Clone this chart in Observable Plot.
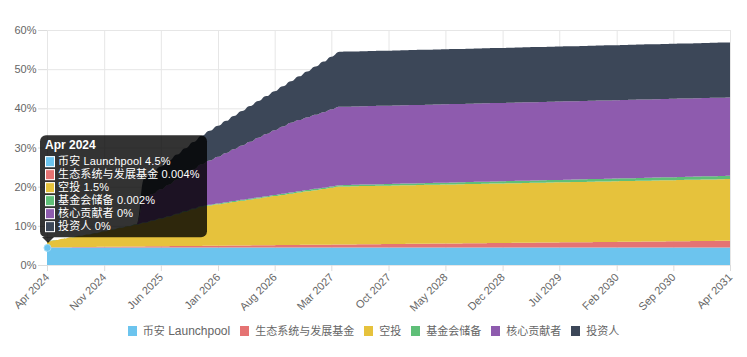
<!DOCTYPE html>
<html>
<head>
<meta charset="utf-8">
<script src="https://cdn.jsdelivr.net/npm/d3@7"></script>
<script src="https://cdn.jsdelivr.net/npm/@observablehq/plot@0.6"></script>
<style>
  html, body { margin: 0; padding: 0; background: #fff; }
  #wrap { position: relative; width: 747px; height: 357px; overflow: hidden;
          font-family: "Liberation Sans", Arial, "Noto Sans CJK SC", sans-serif; }
  #chart svg { display: block; }
  .legend { position: absolute; left: 0; top: 324px; width: 747px; display: flex;
            justify-content: center; font-size: 12px; color: #666; line-height: 12px; }
  .legend .item { display: flex; align-items: center; margin: 0 5px; white-space: nowrap; }
  .legend .sw { width: 9px; height: 10px; margin-right: 6px; }
  .cjk { font-size: 11px; font-family: "Noto Sans CJK SC", sans-serif; }
  .tip { position: absolute; background: rgba(0,0,0,0.8); color: #fff; border-radius: 6px;
         padding: 3px 7px 4.5px 5px; font-size: 11px; white-space: nowrap; transform: translateY(-100%); }
  .tip .title { font-weight: bold; font-size: 12px; line-height: 14px; height: 14px; margin-bottom: 3px; }
  .tip .row { display: flex; align-items: center; line-height: 12.9px; height: 12.9px; }
  .tip .row span { display: inline-block; height: 12.9px; line-height: 12.9px; letter-spacing: 0.15px; }
  .tip .sw { width: 8px; height: 9px; border: 1px solid #fff; margin-right: 3px; box-sizing: content-box; }
  .caret { position: absolute; width: 0; height: 0; border-left: 6px solid transparent;
           border-right: 6px solid transparent; border-top: 6px solid rgba(0,0,0,0.8); }
</style>
</head>
<body>
<div id="wrap"><div id="chart"></div></div>
<script>
// ---------------- data ----------------
const seriesNames = ["币安 Launchpool", "生态系统与发展基金", "空投", "基金会储备", "核心贡献者", "投资人"];
const seriesColors = ["#6cc4ee", "#e57373", "#e6c23c", "#5fbf78", "#8e5bae", "#3c4758"];

const startMonth = "2024-04-01";
const endMonth = "2031-04-01";

const xTickLabels = ["Apr 2024", "Nov 2024", "Jun 2025", "Jan 2026", "Aug 2026", "Mar 2027",
  "Oct 2027", "May 2028", "Dec 2028", "Jul 2029", "Feb 2030", "Sep 2030", "Apr 2031"];
const yTicks = [0, 10, 20, 30, 40, 50, 60];

// monthly released share (%), Apr 2024 .. Apr 2031
const launchpool = [
  4.5,4.5,4.5,4.5,4.5,4.5,4.5,4.5,4.5,4.5,4.5,4.5,
  4.5,4.5,4.5,4.5,4.5,4.5,4.5,4.5,4.5,4.5,4.5,4.5,
  4.5,4.5,4.5,4.5,4.5,4.5,4.5,4.5,4.5,4.5,4.5,4.5,
  4.5,4.5,4.5,4.5,4.5,4.5,4.5,4.5,4.5,4.5,4.5,4.5,
  4.5,4.5,4.5,4.5,4.5,4.5,4.5,4.5,4.5,4.5,4.5,4.5,
  4.5,4.5,4.5,4.5,4.5,4.5,4.5,4.5,4.5,4.5,4.5,4.5,
  4.5,4.5,4.5,4.5,4.5,4.5,4.5,4.5,4.5,4.5,4.5,4.5,
  4.5];
const ecosystem = [
  0.004,0.02,0.04,0.06,0.08,0.10,0.12,0.14,0.16,0.18,0.20,0.22,
  0.24,0.26,0.28,0.30,0.32,0.34,0.36,0.38,0.40,0.42,0.44,0.46,
  0.48,0.50,0.52,0.54,0.56,0.58,0.60,0.62,0.64,0.66,0.68,0.70,
  0.72,0.74,0.76,0.78,0.80,0.82,0.84,0.86,0.88,0.90,0.92,0.94,
  0.96,0.98,1.00,1.02,1.04,1.06,1.08,1.10,1.12,1.14,1.16,1.18,
  1.20,1.22,1.24,1.26,1.28,1.30,1.32,1.34,1.36,1.38,1.40,1.42,
  1.44,1.46,1.48,1.50,1.52,1.54,1.56,1.58,1.60,1.62,1.64,1.66,
  1.68];
const airdrop = [
  1.5,1.83,2.16,2.5,2.83,3.16,3.5,3.92,4.33,4.75,5.17,5.58,
  6.0,6.5,7.0,7.5,8.12,8.75,9.37,10.0,10.28,10.56,10.85,11.13,
  11.41,11.69,11.98,12.26,12.54,12.82,13.1,13.39,13.67,13.95,14.23,14.52,
  14.8,14.82,14.84,14.86,14.88,14.9,14.92,14.94,14.96,14.98,15.0,15.02,
  15.04,15.06,15.08,15.1,15.12,15.14,15.16,15.18,15.2,15.22,15.24,15.26,
  15.28,15.3,15.32,15.34,15.36,15.38,15.4,15.42,15.44,15.46,15.48,15.5,
  15.52,15.54,15.56,15.58,15.6,15.62,15.64,15.66,15.68,15.7,15.72,15.74,
  15.76];
const reserve = [
  0.002,0.01,0.02,0.03,0.04,0.05,0.06,0.07,0.08,0.09,0.10,0.11,
  0.12,0.13,0.14,0.15,0.16,0.17,0.18,0.19,0.20,0.21,0.22,0.23,
  0.24,0.25,0.26,0.27,0.28,0.29,0.30,0.31,0.32,0.33,0.34,0.35,
  0.36,0.37,0.38,0.39,0.40,0.41,0.42,0.43,0.44,0.45,0.46,0.47,
  0.48,0.49,0.50,0.51,0.52,0.53,0.54,0.55,0.56,0.57,0.58,0.59,
  0.60,0.61,0.62,0.63,0.64,0.65,0.66,0.67,0.68,0.69,0.70,0.71,
  0.72,0.73,0.74,0.75,0.76,0.77,0.78,0.79,0.80,0.81,0.82,0.83,
  0.84];
const coreContributors = [
  0,0,0,0,0,0,0,0,0,0,0,0,
  6.1,6.75,7.4,8.05,8.7,9.35,10.0,10.65,11.3,11.95,12.6,13.25,
  13.9,14.55,15.2,15.85,16.5,17.15,17.8,18.17,18.54,18.91,19.28,19.65,
  20,20,20,20,20,20,20,20,20,20,20,20,
  20,20,20,20,20,20,20,20,20,20,20,20,
  20,20,20,20,20,20,20,20,20,20,20,20,
  20,20,20,20,20,20,20,20,20,20,20,20,
  20];
const investors = [
  0,0,0,0,0,0,0,0,0,0,0,0,
  5.2,5.5,5.8,6.1,6.4,6.7,7.0,7.3,7.6,7.9,8.2,8.5,
  8.8,9.1,9.4,9.7,10.0,10.3,10.6,11.17,11.75,12.32,12.9,13.47,
  14.05,14.05,14.05,14.05,14.05,14.05,14.05,14.05,14.05,14.05,14.05,14.05,
  14.05,14.05,14.05,14.05,14.05,14.05,14.05,14.05,14.05,14.05,14.05,14.05,
  14.05,14.05,14.05,14.05,14.05,14.05,14.05,14.05,14.05,14.05,14.05,14.05,
  14.05,14.05,14.05,14.05,14.05,14.05,14.05,14.05,14.05,14.05,14.05,14.05,
  14.05];

// ---------------- build ----------------
const seriesValues = [launchpool, ecosystem, airdrop, reserve, coreContributors, investors];
const dates = d3.utcMonth.range(new Date(startMonth), d3.utcMonth.offset(new Date(endMonth), 1));
seriesValues.forEach((v, i) => { if (v.length !== dates.length) console.error("length mismatch", seriesNames[i], v.length, dates.length); });

const rows = [];
seriesNames.forEach((name, i) => {
  dates.forEach((date, j) => rows.push({ date, series: name, value: seriesValues[i][j] }));
});

const parseTick = d3.utcParse("%b %Y");
const xTicks = xTickLabels.map(parseTick);
const fmtMonth = d3.utcFormat("%b %Y");

const chart = Plot.plot({
  width: 747,
  height: 312,
  marginTop: 30,
  marginBottom: 47,
  marginLeft: 47,
  marginRight: 17,
  style: { fontFamily: "'Liberation Sans', Arial, sans-serif", fontSize: "11px", color: "#666", background: "#fff", overflow: "visible" },
  x: { type: "utc", domain: [dates[0], dates[dates.length - 1]] },
  y: { domain: [0, 60] },
  color: { domain: seriesNames, range: seriesColors },
  marks: [
    Plot.gridY(yTicks, { stroke: "#e6e6e6", strokeOpacity: 1 }),
    Plot.gridX(xTicks, { stroke: "#e6e6e6", strokeOpacity: 1 }),
    Plot.areaY(rows, { x: "date", y: "value", fill: "series", order: seriesNames, curve: "bump-x" }),
    Plot.axisY(yTicks, { tickFormat: d => d + "%", tickSize: 9, tickPadding: 2, stroke: "#dcdcdc", label: null }),
    Plot.axisX(xTicks, { tickFormat: fmtMonth, tickRotate: -45, tickSize: 6, tickPadding: 4, stroke: "#dcdcdc", label: null }),
    Plot.dot([{ date: dates[0], value: launchpool[0] }], { x: "date", y: "value", r: 3.5, fill: seriesColors[0], stroke: "#9fdcf7", strokeWidth: 1 })
  ]
});

const wrap = document.getElementById("wrap");
document.getElementById("chart").appendChild(chart);

// ---------------- legend ----------------
const wrapCjk = s => s.replace(/([\u3400-\u9fff]+)/g, '<span class="cjk">$1</span>');
const legend = document.createElement("div");
legend.className = "legend";
legend.innerHTML = seriesNames.map((n, i) =>
  `<div class="item"><div class="sw" style="background:${seriesColors[i]}"></div><span>${wrapCjk(n)}</span></div>`).join("");
wrap.appendChild(legend);

// ---------------- tooltip (hover state at first month) ----------------
function scaleFn(name) {
  const s = chart.scale(name);
  if (s && typeof s.apply === "function") return v => s.apply(v);
  const sc = (name === "x" ? d3.scaleUtc() : d3.scaleLinear()).domain(s.domain).range(s.range);
  return sc;
}
const xs = scaleFn("x"), ys = scaleFn("y");
const first = seriesValues.map(v => v[0]);
const cum = d3.cumsum(first);
const anchorX = xs(dates[0]);
const anchorY = ys(d3.mean(cum));
const caretSize = 6;

const tip = document.createElement("div");
tip.className = "tip";
tip.innerHTML = `<div class="title">${fmtMonth(dates[0])}</div>` +
  seriesNames.map((n, i) => `<div class="row"><div class="sw" style="background:${seriesColors[i]}"></div><span>${n} ${+first[i]}%</span></div>`).join("");
tip.style.left = (anchorX - 7) + "px";
tip.style.top = (anchorY - caretSize) + "px";
wrap.appendChild(tip);

const caret = document.createElement("div");
caret.className = "caret";
caret.style.left = (anchorX + 1 - caretSize) + "px";
caret.style.top = (anchorY - caretSize) + "px";
wrap.appendChild(caret);
</script>
</body>
</html>
